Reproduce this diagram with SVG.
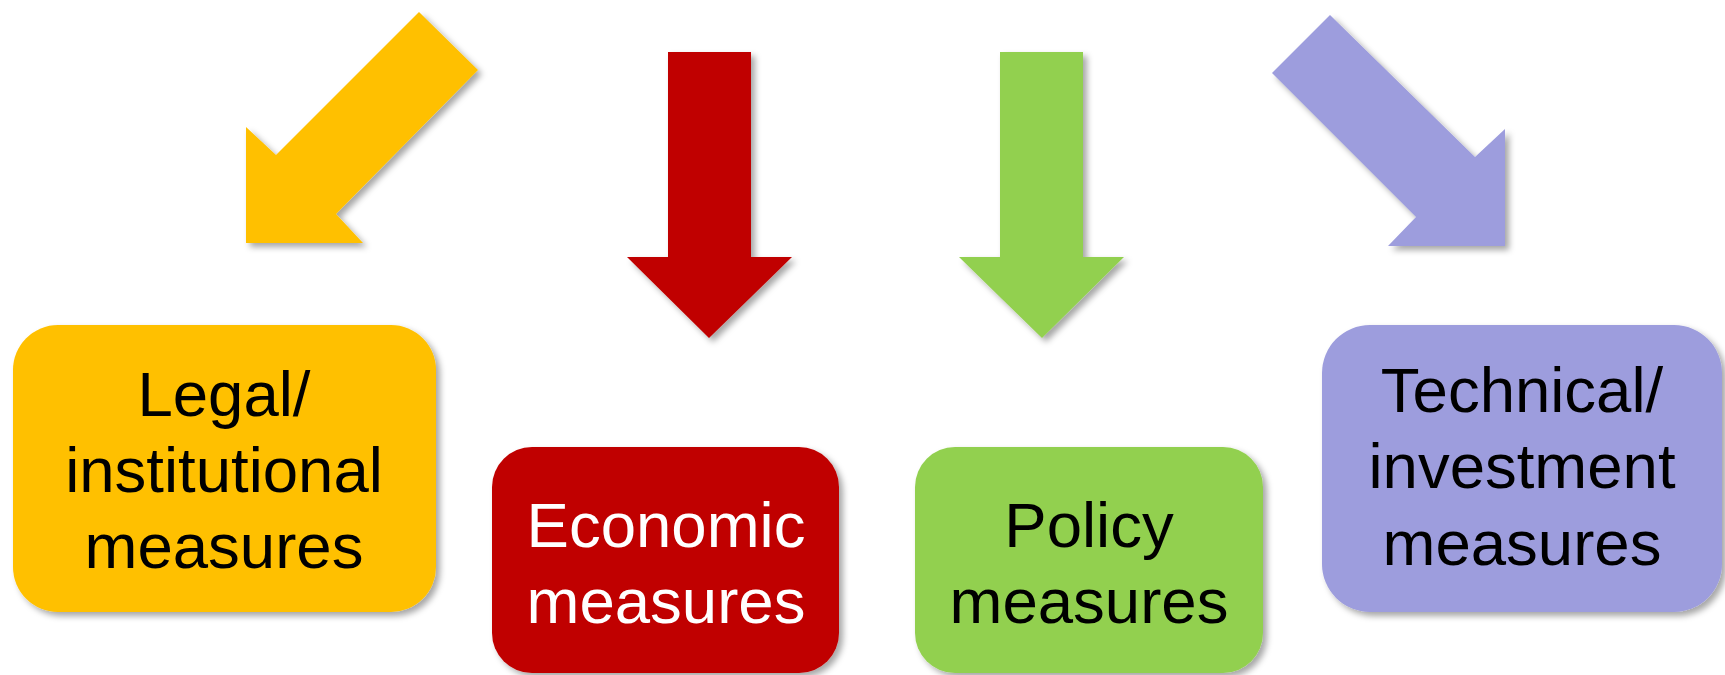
<svg xmlns="http://www.w3.org/2000/svg" width="1725" height="675" viewBox="0 0 1725 675">
<defs>
<filter id="sh" x="-10%" y="-10%" width="125%" height="125%">
<feDropShadow dx="4" dy="4" stdDeviation="3" flood-color="#000" flood-opacity="0.35"/>
</filter>
<style>
.lbl{font-family:"Liberation Sans",Arial,sans-serif;font-size:63.5px;text-anchor:middle}
.box{filter:url(#sh)}
.arr{filter:url(#sh)}
</style>
</defs>
<rect width="1725" height="675" fill="#ffffff"/>
<g id="connectors">
<polygon class="arr" fill="#FFC000" points="419,12 478,70 336,214 363,243 246,243 246,127 276,155"/>
<polygon class="arr" fill="#C00000" points="668,52 751,52 751,257 792,257 709,338 627,257 668,257"/>
<polygon class="arr" fill="#92D050" points="1000,52 1083,52 1083,257 1124,257 1042,338 959,257 1000,257"/>
<polygon class="arr" fill="#9D9DDD" points="1330,15 1475,157 1505,129 1505,246 1388,246 1416,217 1272,73"/>
</g>
<g id="node-legal">
<rect class="box" x="13" y="325" width="423" height="287" rx="45" fill="#FFC000"/>
<text class="lbl" x="224" y="416" fill="#000">Legal/</text>
<text class="lbl" x="224" y="492" fill="#000">institutional</text>
<text class="lbl" x="224" y="568" fill="#000">measures</text>
</g>
<g id="node-economic">
<rect class="box" x="492" y="447" width="347" height="226" rx="40" fill="#C00000"/>
<text class="lbl" x="666" y="547" fill="#fff">Economic</text>
<text class="lbl" x="666" y="623" fill="#fff">measures</text>
</g>
<g id="node-policy">
<rect class="box" x="915" y="447" width="348" height="226" rx="40" fill="#92D050"/>
<text class="lbl" x="1089" y="547" fill="#000">Policy</text>
<text class="lbl" x="1089" y="623" fill="#000">measures</text>
</g>
<g id="node-technical">
<rect class="box" x="1322" y="325" width="400" height="287" rx="48" fill="#9D9DDD"/>
<text class="lbl" x="1522" y="412" fill="#000">Technical/</text>
<text class="lbl" x="1522" y="488" fill="#000">investment</text>
<text class="lbl" x="1522" y="565" fill="#000">measures</text>
</g>
</svg>
